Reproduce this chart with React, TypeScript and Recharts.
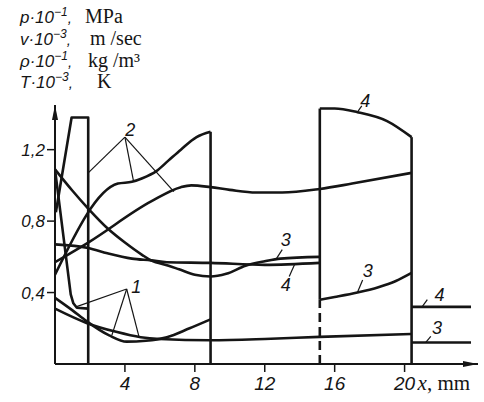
import React from 'react';
import { LineChart, Line, XAxis, YAxis, ReferenceDot } from 'recharts';

// tick values
const xTicks = [4, 8, 12, 16, 20];
const yTicks = [0.4, 0.8, 1.2];

// curves, [x mm, value]
const spikeDrop = [[0, 1.09], [0.9, 0.39], [1.05, 0.34], [1.25, 0.315], [1.9, 0.31]];
const spikeEdge = [[0.05, 0.85], [0.95, 1.38], [1.9, 1.38], [1.9, 0]];
const curve1a = [[0, 0.37], [1, 0.3], [1.8, 0.24], [3.1, 0.16], [4.1, 0.125], [5.2, 0.13], [6.4, 0.15], [7.7, 0.2], [8.9, 0.25]];
const curve1b = [[0, 0.31], [1.8, 0.23], [3.5, 0.18], [4.9, 0.15], [6, 0.14], [8.9, 0.133], [12, 0.14], [15.15, 0.152], [20.4, 0.168]];
const curve2a = [[0, 0.5], [3.6, 1.01], [4.4, 1.02], [5, 1.04], [5.8, 1.08], [6.5, 1.14], [7.2, 1.2], [8.1, 1.27], [8.9, 1.3]];
const curve2b = [[0, 0.57], [1.9, 0.68], [5.5, 0.91], [7.2, 0.99], [7.8, 1.0], [8.9, 0.99], [10, 0.975], [11.5, 0.96], [13, 0.96], [15.15, 0.98], [17, 1.01], [20.4, 1.07]];
const curve3Left = [[0, 1.09], [1, 0.97], [1.9, 0.87], [3, 0.76], [4, 0.68], [5, 0.61], [5.5, 0.58], [6.5, 0.55], [7.1, 0.53], [8, 0.5], [8.9, 0.49], [9.8, 0.505], [10.9, 0.55], [12, 0.575], [12.9, 0.59], [15.15, 0.6]];
const curve4Left = [[0, 0.67], [1.9, 0.65], [3, 0.62], [4.4, 0.59], [5.5, 0.58], [6.4, 0.57], [8.9, 0.566], [12, 0.555], [15.15, 0.566]];
const curve4Right = [[15.15, 1.43], [16, 1.43], [17.3, 1.41], [19, 1.36], [20.4, 1.27]];
const curve3Right = [[15.15, 0.36], [16, 0.375], [17.3, 0.4], [18.5, 0.43], [19.5, 0.465], [20.4, 0.51]];
const tail4 = [[20.4, 0.32], [23.8, 0.32]];
const tail3 = [[20.4, 0.12], [23.8, 0.12]];

// vertical walls
const wall9 = [[8.9, 0], [8.9, 1.3]];
const wall15 = [[15.15, 0.36], [15.15, 1.43]];
const wall20 = [[20.4, 0], [20.4, 1.27]];
const dashedWall = [[15.15, 0], [15.15, 0.36]];

// leader lines and their labels
const leaders = [
  [[1.9, 1.07], [4.0, 1.27]],
  [[4.0, 1.27], [4.5, 1.02]],
  [[4.0, 1.27], [6.8, 0.965]],
  [[4.1, 0.42], [1.2, 0.32]],
  [[4.1, 0.42], [3.25, 0.16]],
  [[4.1, 0.42], [4.8, 0.155]],
  [[13.0, 0.64], [12.65, 0.587]],
  [[13.7, 0.555], [13.4, 0.49]],
  [[17.6, 0.47], [17.3, 0.4]],
  [[17.55, 1.445], [17.3, 1.41]],
  [[21.3, 0.36], [21.0, 0.32]],
  [[21.5, 0.155], [21.2, 0.12]],
];
const labelText = ['2', '1', '3', '4', '3', '4', '4', '3'];
const labelX = [4.3, 4.65, 13.2, 13.2, 17.9, 17.75, 22.0, 21.85];
const labelY = [1.31, 0.43, 0.695, 0.443, 0.52, 1.475, 0.387, 0.2];

const headerSym = ['p·10', 'v·10', 'ρ·10', 'T·10'];
const headerExp = ['−1', '−3', '−1', '−3'];
const headerUnit = ['MPa', 'm /sec', 'kg /m³', 'K'];
const unitLeft = [85, 90, 88, 97];
const rowBase = [23, 45, 67, 88];

const toPts = (arr: number[][]) => arr.map(([x, y]) => ({ x, y }));

const INK = '#151515';
const numFont = '"Liberation Sans", Arial, sans-serif';
const serif = '"Liberation Serif", "Times New Roman", serif';

const XTick = ({ x, y, payload }: any) => (
  <g>
    <text x={x} y={y + 16} textAnchor="middle" fontFamily={numFont} fontStyle="italic" fontSize={19} fill={INK}>
      {payload.value}
    </text>
    {payload.value === 20 && (
      <text x={x + 13} y={y + 16} fontFamily={serif} fontSize={21} fill={INK}>
        <tspan fontStyle="italic">x</tspan>, mm
      </text>
    )}
  </g>
);

const YTick = ({ x, y, payload }: any) => (
  <text x={x} y={y + 6} textAnchor="end" fontFamily={numFont} fontStyle="italic" fontSize={17} fill={INK}>
    {String(payload.value).replace('.', ',')}
  </text>
);

const smooth = [curve1a, curve1b, curve2a, curve2b, curve3Left, curve4Left, curve4Right, curve3Right];
const straight = [spikeDrop, spikeEdge, tail4, tail3, wall9, wall15, wall20];

export default function App() {
  return (
    <div style={{ position: 'absolute', left: 0, top: 0, width: 484, height: 402, background: '#fff' }}>
      <svg width={484} height={100} style={{ position: 'absolute', left: 0, top: 0 }}>
        {headerSym.map((s, i) => (
          <g key={i}>
            <text x={20} y={rowBase[i]} fontFamily={numFont} fontStyle="italic" fontSize={17} fill={INK}>
              {s}
              <tspan dy={-7} fontSize={12}>{headerExp[i]}</tspan>
              <tspan dy={7} fontSize={15}>,</tspan>
            </text>
            <text x={unitLeft[i]} y={rowBase[i]} fontFamily={serif} fontSize={20} fill={INK}>
              {headerUnit[i]}
            </text>
          </g>
        ))}
      </svg>
      <LineChart width={484} height={402} margin={{ top: 105, right: 6, bottom: 0, left: 15 }}>
        <XAxis
          type="number"
          dataKey="x"
          domain={[0, 24.2]}
          ticks={xTicks}
          height={38}
          tickSize={8}
          axisLine={{ stroke: INK, strokeWidth: 2 }}
          tickLine={{ stroke: INK, strokeWidth: 1.5 }}
          tick={<XTick />}
          allowDataOverflow
        />
        <YAxis
          type="number"
          dataKey="y"
          domain={[0, 1.45]}
          ticks={yTicks}
          width={40}
          tickSize={8}
          axisLine={{ stroke: INK, strokeWidth: 2 }}
          tickLine={{ stroke: INK, strokeWidth: 1.5 }}
          tick={<YTick />}
          allowDataOverflow
        />
        {smooth.map((c, i) => (
          <Line
            key={'s' + i}
            data={toPts(c)}
            dataKey="y"
            type="monotone"
            stroke={INK}
            strokeWidth={2.6}
            dot={false}
            isAnimationActive={false}
          />
        ))}
        {straight.map((c, i) => (
          <Line
            key={'l' + i}
            data={toPts(c)}
            dataKey="y"
            type="linear"
            stroke={INK}
            strokeWidth={2.6}
            strokeLinejoin="round"
            dot={false}
            isAnimationActive={false}
          />
        ))}
        <Line
          data={toPts(dashedWall)}
          dataKey="y"
          type="linear"
          stroke={INK}
          strokeWidth={2.6}
          strokeDasharray="9 5"
          dot={false}
          isAnimationActive={false}
        />
        {leaders.map((c, i) => (
          <Line
            key={'d' + i}
            data={toPts(c)}
            dataKey="y"
            type="linear"
            stroke={INK}
            strokeWidth={1.2}
            dot={false}
            isAnimationActive={false}
          />
        ))}
        {labelText.map((t, i) => (
          <ReferenceDot
            key={'t' + i}
            x={labelX[i]}
            y={labelY[i]}
            r={0}
            ifOverflow="visible"
            shape={(p: any) => (
              <text x={p.cx} y={p.cy + 6} textAnchor="middle" fontFamily={numFont} fontStyle="italic" fontSize={18} fill={INK}>
                {t}
              </text>
            )}
          />
        ))}
        <ReferenceDot
          x={24.2}
          y={0}
          r={0}
          ifOverflow="visible"
          shape={(p: any) => <path d={`M${p.cx},${p.cy} l-15,-3 l0,6 z`} fill={INK} />}
        />
        <ReferenceDot
          x={0}
          y={1.45}
          r={0}
          ifOverflow="visible"
          shape={(p: any) => <path d={`M${p.cx},${p.cy} l-3,15 l6,0 z`} fill={INK} />}
        />
      </LineChart>
    </div>
  );
}
